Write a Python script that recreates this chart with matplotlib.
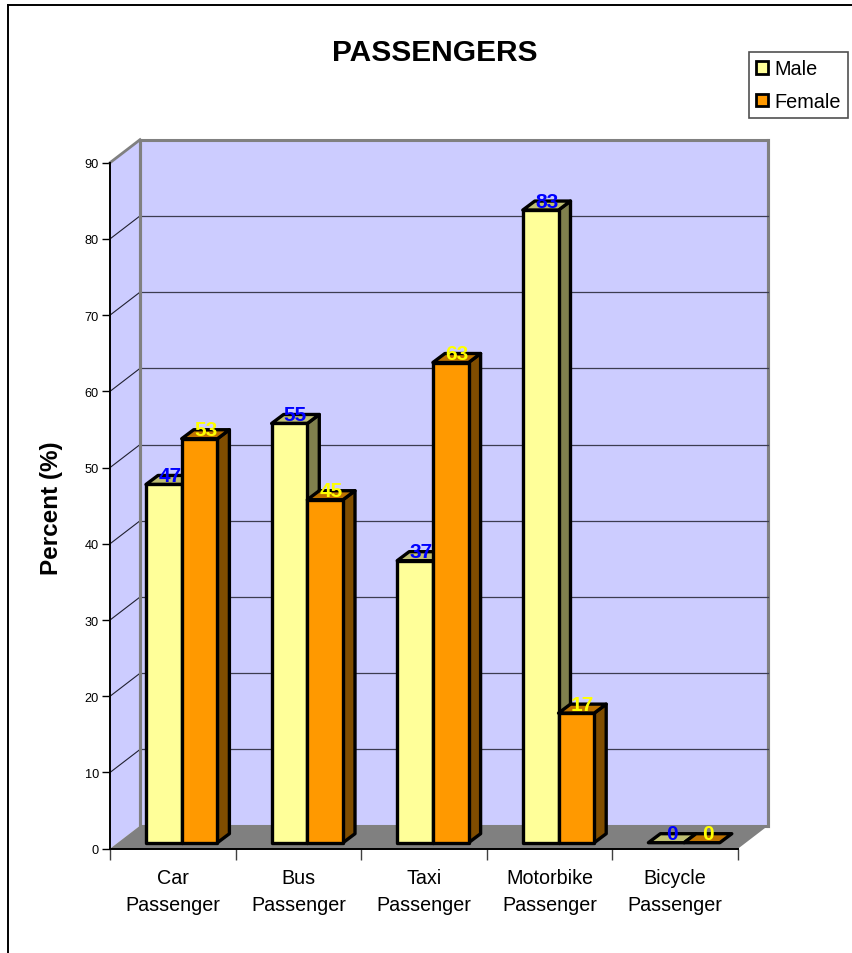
import matplotlib
matplotlib.use("Agg")
import matplotlib.pyplot as plt
from matplotlib.lines import Line2D
from matplotlib.patches import Patch, Polygon

plt.rcParams['font.family'] = ['Liberation Sans', 'DejaVu Sans']

categories = ["Car\nPassenger", "Bus\nPassenger", "Taxi\nPassenger",
              "Motorbike\nPassenger", "Bicycle\nPassenger"]
male = [47, 55, 37, 83, 0]
female = [53, 45, 63, 17, 0]
yticks = list(range(0, 100, 10))

W, H = 852, 954
PX_X = 628 / 5    # pixels per category
PX_Y = 686 / 90   # pixels per percent


def ox(px):
    return px / PX_X


def oy(px):
    return px / PX_Y


fig = plt.figure(figsize=(W / 100, H / 100), dpi=100, facecolor="white")
ax = fig.add_axes([110 / W, 1 - 849.7 / H, 628 / W, 686 / H])
ax.set_xlim(0, 5)
ax.set_ylim(0, 90)
ax.patch.set_visible(False)

# box walls, depth 30px across and 23px up
bx, by = ox(30), oy(23)
ax.add_patch(Polygon([(0, 0), (bx, by), (bx, 90 + by), (0, 90)], closed=True,
                     fc="#CCCCFF", ec="none", zorder=1, clip_on=False))
ax.add_patch(Polygon([(bx, by), (5 + bx, by), (5 + bx, 90 + by), (bx, 90 + by)], closed=True,
                     fc="#CCCCFF", ec="#808080", lw=2.2, zorder=1, clip_on=False))
ax.add_patch(Polygon([(0, 0), (5, 0), (5 + bx, by), (bx, by)], closed=True,
                     fc="#808080", ec="none", zorder=2, clip_on=False))
ax.plot([0, bx], [90, 90 + by], color="#808080", lw=2, zorder=2, clip_on=False)
ax.plot([5 + bx, 5 + bx], [by, 90 + by], color="#808080", lw=2.2, zorder=2, clip_on=False)

for v in yticks[1:-1]:
    ax.plot([bx, 5 + bx], [v + by, v + by], color="#3C3C50", lw=0.9, zorder=2, clip_on=False)
    ax.plot([0, bx], [v, v + by], color="#202030", lw=0.8, zorder=2, clip_on=False)
ax.plot([bx, bx], [by, 90 + by], color="#808080", lw=2.2, zorder=2, clip_on=False)


def bar3d(x0, value, front, top, side, text_color, z):
    # x0 in category units, bar sits 6px up from the floor front
    w = ox(35.7)
    dx, dy = ox(12), oy(9)
    x = x0
    b = oy(6)
    t = value + b
    ec = "black"
    lw = 2.4
    if value > 0:
        ax.add_patch(Polygon([(x + w, b), (x + w + dx, b + dy), (x + w + dx, t + dy), (x + w, t)],
                             closed=True, fc=side, ec=ec, lw=lw, zorder=z, clip_on=False, joinstyle="round"))
    ax.add_patch(Polygon([(x, t), (x + dx, t + dy), (x + w + dx, t + dy), (x + w, t)],
                         closed=True, fc=top, ec=ec, lw=lw, zorder=z, clip_on=False, joinstyle="round"))
    if value > 0:
        ax.add_patch(Polygon([(x, b), (x + w, b), (x + w, t), (x, t)],
                             closed=True, fc=front, ec=ec, lw=lw, zorder=z + 0.1, clip_on=False, joinstyle="round"))
    ax.annotate(str(value), (x + w / 2, t), xytext=(6 * 0.72, 9 * 0.72), textcoords="offset points",
                ha="center", va="center", color=text_color, fontsize=15, fontweight="bold", zorder=20)


for i in range(len(categories)):
    bar3d(i + ox(36), male[i], "#FFFF99", "#BFBF73", "#80804D", "#0000FF", 5 + i)
    bar3d(i + ox(71.7), female[i], "#FF9900", "#BF7300", "#804D00", "#FFFF00", 5.5 + i)

# axes, ticks and labels
for s in ("top", "right"):
    ax.spines[s].set_visible(False)
ax.spines["left"].set_linewidth(1.4)
ax.spines["bottom"].set_linewidth(1.4)
ax.spines["left"].set_zorder(3)
ax.spines["bottom"].set_zorder(3)
ax.set_yticks(yticks)
ax.tick_params(axis="y", labelsize=9.2, length=6, width=1, pad=2)
ax.set_xticks(range(6))
ax.set_xticklabels([])
ax.tick_params(axis="x", which="major", length=8, width=1, color="#404040")
ax.set_xticks([i + 0.5 for i in range(5)], minor=True)
ax.set_xticklabels(categories, minor=True, fontsize=14.2, linespacing=1.5)
ax.tick_params(axis="x", which="minor", length=0, pad=14)
ax.set_ylabel("Percent (%)", fontsize=17.5, fontweight="bold", labelpad=0)
ax.yaxis.set_label_coords((63 - 110) / 628, (849 - 507) / 686)

fig.text(435 / W, 1 - 53 / H, "PASSENGERS", ha="center", va="center",
         fontsize=21.5, fontweight="bold")

handles = [Patch(fc="#FFFF99", ec="black", lw=2), Patch(fc="#FF9900", ec="black", lw=2)]
leg = fig.legend(handles, ["Male", "Female"], loc="upper left",
                 bbox_to_anchor=(749 / W, 1 - 53 / H), borderaxespad=0,
                 fancybox=False, framealpha=1, edgecolor="#505050",
                 fontsize=14.3, handlelength=0.62, handleheight=0.62,
                 handletextpad=0.3, labelspacing=0.7, borderpad=0.36)
leg.get_frame().set_linewidth(1.2)

# chart frame, only top and left are visible
fig.add_artist(Line2D([7.5 / W, 1], [1 - 5.5 / H, 1 - 5.5 / H], color="black", lw=1.4))
fig.add_artist(Line2D([7.5 / W, 7.5 / W], [1 - 5.5 / H, 0], color="black", lw=1.4))

fig.savefig("out.png", dpi=100)
plt.close(fig)
